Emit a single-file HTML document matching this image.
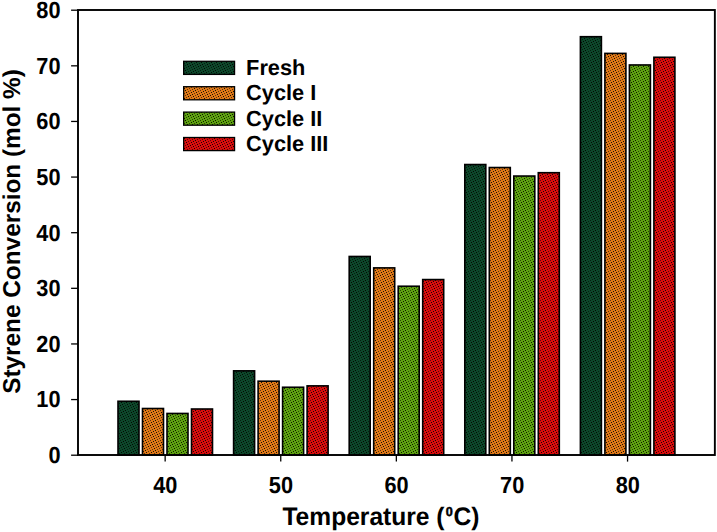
<!DOCTYPE html>
<html><head><meta charset="utf-8"><title>Chart</title>
<style>
html,body{margin:0;padding:0;background:#fff;}
svg{display:block;font-family:"Liberation Sans",sans-serif;font-weight:bold;fill:#000;text-rendering:geometricPrecision;}
</style></head><body>
<svg width="717" height="532" viewBox="0 0 717 532">
<defs>
<pattern id="p0" width="10" height="10" patternUnits="userSpaceOnUse">
<rect width="10" height="10" fill="#0d472a"/>
<g fill="#051f12"><rect x="0" y="0" width="1" height="1"/><rect x="8" y="1" width="1" height="1"/><rect x="4" y="3" width="1" height="1"/><rect x="9" y="3" width="1" height="1"/><rect x="5" y="5" width="1" height="1"/><rect x="1" y="7" width="1" height="1"/><rect x="6" y="7" width="1" height="1"/><rect x="9" y="8" width="1" height="1"/><rect x="2" y="9" width="1" height="1"/><rect x="7" y="9" width="1" height="1"/></g><g fill="#010805"><rect x="5" y="0" width="1" height="1"/><rect x="3" y="1" width="1" height="1"/><rect x="1" y="2" width="1" height="1"/><rect x="6" y="2" width="1" height="1"/><rect x="2" y="4" width="1" height="1"/><rect x="7" y="4" width="1" height="1"/><rect x="0" y="5" width="1" height="1"/><rect x="3" y="6" width="1" height="1"/><rect x="8" y="6" width="1" height="1"/><rect x="4" y="8" width="1" height="1"/></g>
</pattern>
<pattern id="p1" width="10" height="10" patternUnits="userSpaceOnUse">
<rect width="10" height="10" fill="#de7817"/>
<g fill="#5f340a"><rect x="0" y="0" width="1" height="1"/><rect x="8" y="1" width="1" height="1"/><rect x="4" y="3" width="1" height="1"/><rect x="9" y="3" width="1" height="1"/><rect x="5" y="5" width="1" height="1"/><rect x="1" y="7" width="1" height="1"/><rect x="6" y="7" width="1" height="1"/><rect x="9" y="8" width="1" height="1"/><rect x="2" y="9" width="1" height="1"/><rect x="7" y="9" width="1" height="1"/></g><g fill="#190e03"><rect x="5" y="0" width="1" height="1"/><rect x="3" y="1" width="1" height="1"/><rect x="1" y="2" width="1" height="1"/><rect x="6" y="2" width="1" height="1"/><rect x="2" y="4" width="1" height="1"/><rect x="7" y="4" width="1" height="1"/><rect x="0" y="5" width="1" height="1"/><rect x="3" y="6" width="1" height="1"/><rect x="8" y="6" width="1" height="1"/><rect x="4" y="8" width="1" height="1"/></g>
</pattern>
<pattern id="p2" width="10" height="10" patternUnits="userSpaceOnUse">
<rect width="10" height="10" fill="#5ea210"/>
<g fill="#284607"><rect x="0" y="0" width="1" height="1"/><rect x="8" y="1" width="1" height="1"/><rect x="4" y="3" width="1" height="1"/><rect x="9" y="3" width="1" height="1"/><rect x="5" y="5" width="1" height="1"/><rect x="1" y="7" width="1" height="1"/><rect x="6" y="7" width="1" height="1"/><rect x="9" y="8" width="1" height="1"/><rect x="2" y="9" width="1" height="1"/><rect x="7" y="9" width="1" height="1"/></g><g fill="#0b1302"><rect x="5" y="0" width="1" height="1"/><rect x="3" y="1" width="1" height="1"/><rect x="1" y="2" width="1" height="1"/><rect x="6" y="2" width="1" height="1"/><rect x="2" y="4" width="1" height="1"/><rect x="7" y="4" width="1" height="1"/><rect x="0" y="5" width="1" height="1"/><rect x="3" y="6" width="1" height="1"/><rect x="8" y="6" width="1" height="1"/><rect x="4" y="8" width="1" height="1"/></g>
</pattern>
<pattern id="p3" width="10" height="10" patternUnits="userSpaceOnUse">
<rect width="10" height="10" fill="#d90d0d"/>
<g fill="#5e0505"><rect x="0" y="0" width="1" height="1"/><rect x="8" y="1" width="1" height="1"/><rect x="4" y="3" width="1" height="1"/><rect x="9" y="3" width="1" height="1"/><rect x="5" y="5" width="1" height="1"/><rect x="1" y="7" width="1" height="1"/><rect x="6" y="7" width="1" height="1"/><rect x="9" y="8" width="1" height="1"/><rect x="2" y="9" width="1" height="1"/><rect x="7" y="9" width="1" height="1"/></g><g fill="#190101"><rect x="5" y="0" width="1" height="1"/><rect x="3" y="1" width="1" height="1"/><rect x="1" y="2" width="1" height="1"/><rect x="6" y="2" width="1" height="1"/><rect x="2" y="4" width="1" height="1"/><rect x="7" y="4" width="1" height="1"/><rect x="0" y="5" width="1" height="1"/><rect x="3" y="6" width="1" height="1"/><rect x="8" y="6" width="1" height="1"/><rect x="4" y="8" width="1" height="1"/></g>
</pattern>
</defs>
<rect width="717" height="532" fill="#fff"/>
<rect x="118.00" y="401.27" width="21.00" height="53.73" fill="url(#p0)" stroke="#000" stroke-width="1.6"/>
<rect x="142.50" y="408.50" width="21.00" height="46.50" fill="url(#p1)" stroke="#000" stroke-width="1.6"/>
<rect x="167.00" y="413.45" width="21.00" height="41.55" fill="url(#p2)" stroke="#000" stroke-width="1.6"/>
<rect x="191.50" y="409.00" width="21.00" height="46.00" fill="url(#p3)" stroke="#000" stroke-width="1.6"/>
<rect x="233.60" y="370.84" width="21.00" height="84.16" fill="url(#p0)" stroke="#000" stroke-width="1.6"/>
<rect x="258.10" y="381.19" width="21.00" height="73.81" fill="url(#p1)" stroke="#000" stroke-width="1.6"/>
<rect x="282.60" y="387.25" width="21.00" height="67.75" fill="url(#p2)" stroke="#000" stroke-width="1.6"/>
<rect x="307.10" y="385.86" width="21.00" height="69.14" fill="url(#p3)" stroke="#000" stroke-width="1.6"/>
<rect x="349.20" y="256.47" width="21.00" height="198.53" fill="url(#p0)" stroke="#000" stroke-width="1.6"/>
<rect x="373.70" y="267.88" width="21.00" height="187.12" fill="url(#p1)" stroke="#000" stroke-width="1.6"/>
<rect x="398.20" y="286.23" width="21.00" height="168.77" fill="url(#p2)" stroke="#000" stroke-width="1.6"/>
<rect x="422.70" y="279.56" width="21.00" height="175.44" fill="url(#p3)" stroke="#000" stroke-width="1.6"/>
<rect x="464.80" y="164.53" width="21.00" height="290.47" fill="url(#p0)" stroke="#000" stroke-width="1.6"/>
<rect x="489.30" y="167.53" width="21.00" height="287.47" fill="url(#p1)" stroke="#000" stroke-width="1.6"/>
<rect x="513.80" y="176.04" width="21.00" height="278.96" fill="url(#p2)" stroke="#000" stroke-width="1.6"/>
<rect x="538.30" y="172.70" width="21.00" height="282.30" fill="url(#p3)" stroke="#000" stroke-width="1.6"/>
<rect x="580.40" y="36.70" width="21.00" height="418.30" fill="url(#p0)" stroke="#000" stroke-width="1.6"/>
<rect x="604.90" y="53.39" width="21.00" height="401.61" fill="url(#p1)" stroke="#000" stroke-width="1.6"/>
<rect x="629.40" y="64.96" width="21.00" height="390.04" fill="url(#p2)" stroke="#000" stroke-width="1.6"/>
<rect x="653.90" y="57.28" width="21.00" height="397.72" fill="url(#p3)" stroke="#000" stroke-width="1.6"/>
<rect x="78.0" y="10.0" width="636.85" height="445.0" fill="none" stroke="#000" stroke-width="1.9"/>
<line x1="71.1" x2="78.0" y1="455.20" y2="455.20" stroke="#000" stroke-width="1.3"/>
<text transform="translate(60.55,463.10) scale(0.93,1)" font-size="23.4" text-anchor="end">0</text>
<line x1="71.1" x2="78.0" y1="399.57" y2="399.57" stroke="#000" stroke-width="1.3"/>
<text transform="translate(60.55,407.48) scale(0.93,1)" font-size="23.4" text-anchor="end">10</text>
<line x1="71.1" x2="78.0" y1="343.95" y2="343.95" stroke="#000" stroke-width="1.3"/>
<text transform="translate(60.55,351.85) scale(0.93,1)" font-size="23.4" text-anchor="end">20</text>
<line x1="71.1" x2="78.0" y1="288.32" y2="288.32" stroke="#000" stroke-width="1.3"/>
<text transform="translate(60.55,296.23) scale(0.93,1)" font-size="23.4" text-anchor="end">30</text>
<line x1="71.1" x2="78.0" y1="232.70" y2="232.70" stroke="#000" stroke-width="1.3"/>
<text transform="translate(60.55,240.60) scale(0.93,1)" font-size="23.4" text-anchor="end">40</text>
<line x1="71.1" x2="78.0" y1="177.07" y2="177.07" stroke="#000" stroke-width="1.3"/>
<text transform="translate(60.55,184.97) scale(0.93,1)" font-size="23.4" text-anchor="end">50</text>
<line x1="71.1" x2="78.0" y1="121.45" y2="121.45" stroke="#000" stroke-width="1.3"/>
<text transform="translate(60.55,129.35) scale(0.93,1)" font-size="23.4" text-anchor="end">60</text>
<line x1="71.1" x2="78.0" y1="65.83" y2="65.83" stroke="#000" stroke-width="1.3"/>
<text transform="translate(60.55,73.72) scale(0.93,1)" font-size="23.4" text-anchor="end">70</text>
<line x1="71.1" x2="78.0" y1="10.20" y2="10.20" stroke="#000" stroke-width="1.3"/>
<text transform="translate(60.55,18.10) scale(0.93,1)" font-size="23.4" text-anchor="end">80</text>
<line x1="165.15" x2="165.15" y1="455.0" y2="461.6" stroke="#000" stroke-width="1.3"/>
<text transform="translate(165.35,492.6) scale(0.93,1)" font-size="23.4" text-anchor="middle">40</text>
<line x1="280.75" x2="280.75" y1="455.0" y2="461.6" stroke="#000" stroke-width="1.3"/>
<text transform="translate(280.95,492.6) scale(0.93,1)" font-size="23.4" text-anchor="middle">50</text>
<line x1="396.35" x2="396.35" y1="455.0" y2="461.6" stroke="#000" stroke-width="1.3"/>
<text transform="translate(396.55,492.6) scale(0.93,1)" font-size="23.4" text-anchor="middle">60</text>
<line x1="511.95" x2="511.95" y1="455.0" y2="461.6" stroke="#000" stroke-width="1.3"/>
<text transform="translate(512.15,492.6) scale(0.93,1)" font-size="23.4" text-anchor="middle">70</text>
<line x1="627.55" x2="627.55" y1="455.0" y2="461.6" stroke="#000" stroke-width="1.3"/>
<text transform="translate(627.75,492.6) scale(0.93,1)" font-size="23.4" text-anchor="middle">80</text>
<text transform="translate(282.4,525.1) scale(0.972,1)" font-size="25.3">Temperature (<tspan font-size="13.0" dy="-9.0" dx="1.2" stroke="#000" stroke-width="0.5">0</tspan><tspan dy="9.0" dx="0.8">C)</tspan></text>
<text transform="translate(20,393.8) rotate(-90)" font-size="24.35">Styrene Conversion (mol %)</text>
<rect x="183.65" y="61.30" width="50.90" height="13.10" fill="url(#p0)" stroke="#000" stroke-width="1.3"/>
<text x="246.1" y="74.70" font-size="21.75">Fresh</text>
<rect x="183.65" y="86.70" width="50.90" height="13.10" fill="url(#p1)" stroke="#000" stroke-width="1.3"/>
<text x="246.1" y="100.10" font-size="21.75">Cycle I</text>
<rect x="183.65" y="112.10" width="50.90" height="13.10" fill="url(#p2)" stroke="#000" stroke-width="1.3"/>
<text x="246.1" y="125.50" font-size="21.75">Cycle II</text>
<rect x="183.65" y="137.50" width="50.90" height="13.10" fill="url(#p3)" stroke="#000" stroke-width="1.3"/>
<text x="246.1" y="150.90" font-size="21.75">Cycle III</text>
</svg>
</body></html>
